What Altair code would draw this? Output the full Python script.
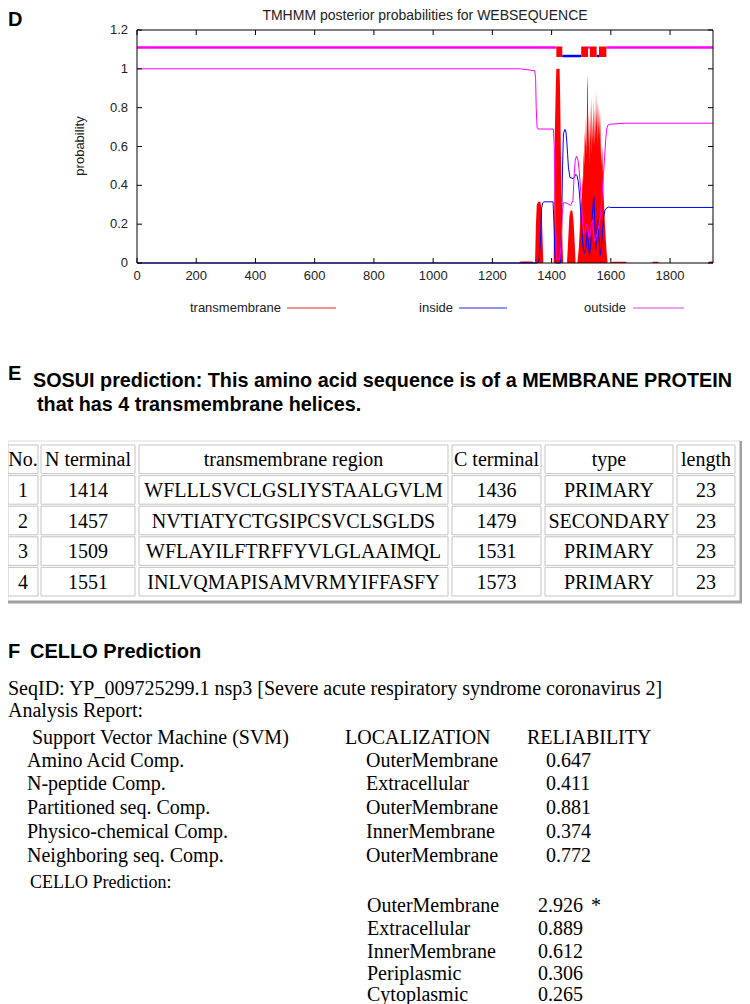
import altair as alt
import pandas as pd

# ============================ DATA ============================
SEQ_LEN = 1945

# TMHMM posterior probabilities
tm_pos = [0, 1290, 1295, 1335, 1340,
          1344, 1347, 1350, 1355, 1362, 1366, 1369, 1372,
          1407, 1409, 1411, 1414, 1416, 1427, 1429, 1431, 1434, 1437, 1439,
          1452, 1456, 1460, 1464, 1470, 1474, 1478, 1481,
          1487, 1492, 1496, 1499, 1502, 1504, 1506, 1508, 1510, 1512, 1514, 1516, 1518, 1520,
          1522, 1524, 1526, 1528, 1530, 1532, 1534, 1536, 1538, 1540, 1542, 1544, 1546, 1548,
          1550, 1552, 1554, 1556, 1558, 1560, 1562, 1564, 1566, 1568, 1571, 1574, 1577, 1580,
          1583, 1586, 1589,
          1600, 1605, 1650, 1655, 1740, 1742, 1760, 1762, 1930, 1933, 1945]
tm_prob = [0, 0, 0.008, 0.008, 0,
           0, 0.2, 0.3, 0.315, 0.315, 0.28, 0.15, 0,
           0, 0.3, 0.68, 0.9, 1.0, 1.0, 0.85, 0.6, 0.3, 0.08, 0,
           0, 0.12, 0.24, 0.27, 0.27, 0.22, 0.1, 0,
           0, 0.08, 0.2, 0.33, 0.3, 0.45, 0.4, 0.58, 0.5, 0.68, 0.6, 0.75, 0.55, 0.9,
           0.97, 0.6, 0.78, 0.5, 0.82, 0.62, 0.86, 0.55, 0.75, 0.62, 0.85, 0.6, 0.8, 0.64,
           0.89, 0.7, 0.84, 0.6, 0.82, 0.65, 0.8, 0.55, 0.78, 0.5, 0.6, 0.42, 0.3, 0.2,
           0.12, 0.05, 0,
           0, 0.006, 0.006, 0, 0, 0.006, 0.006, 0, 0, 0.008, 0.008]

in_pos = [0, 1352, 1358, 1362, 1366, 1370, 1374,
          1405, 1408, 1411, 1414,
          1430, 1434, 1437, 1440, 1445, 1448, 1451, 1454, 1457, 1462,
          1473, 1478, 1482, 1486, 1490, 1494, 1498, 1502, 1506, 1511,
          1516, 1520, 1524, 1528, 1532, 1536, 1540, 1543, 1546, 1549,
          1552, 1556, 1560, 1564, 1568, 1572, 1576, 1580, 1585, 1592,
          1600, 1945]
in_prob = [0, 0, 0.02, 0.1, 0.28, 0.31, 0.315,
           0.315, 0.2, 0.05, 0,
           0, 0.2, 0.5, 0.667, 0.688, 0.68, 0.633, 0.56, 0.49, 0.44,
           0.435, 0.445, 0.457, 0.45, 0.42, 0.36, 0.27, 0.17, 0.08, 0.05,
           0.08, 0.16, 0.1, 0.04, 0.1, 0.22, 0.3, 0.34, 0.2, 0.07,
           0.15, 0.22, 0.12, 0.04, 0.08, 0.17, 0.24, 0.27, 0.282, 0.288,
           0.286, 0.286]

out_pos = [0, 1295, 1320, 1343, 1346, 1348, 1351, 1354,
           1406, 1409, 1412, 1416, 1428, 1432, 1436, 1440, 1448, 1455,
           1464, 1472, 1476, 1480, 1484, 1489, 1493, 1497, 1501, 1505,
           1509, 1514, 1518, 1522, 1526, 1530, 1534, 1538, 1542, 1546,
           1550, 1555, 1560, 1564, 1568, 1571, 1575, 1579, 1583, 1586,
           1590, 1600, 1650, 1945]
out_prob = [1.0, 1.0, 0.995, 0.99, 0.95, 0.8, 0.7, 0.69,
            0.69, 0.6, 0.3, 0.02, 0.02, 0.1, 0.25, 0.31, 0.31, 0.305,
            0.297, 0.32, 0.45, 0.53, 0.55, 0.53, 0.48, 0.4, 0.3, 0.2,
            0.15, 0.17, 0.2, 0.18, 0.13, 0.14, 0.2, 0.22, 0.15, 0.11,
            0.13, 0.16, 0.2, 0.23, 0.3, 0.36, 0.45, 0.55, 0.64, 0.69,
            0.71, 0.715, 0.72, 0.72]

# predicted topology (top bar)
topo_start = [0, 1416, 1436, 1500, 1523, 1529, 1552, 1560, 1585]
topo_end = [1416, 1436, 1500, 1523, 1529, 1552, 1560, 1585, 1945]
topo_state = ["outside", "TM", "inside", "TM", "outside", "TM", "inside", "TM", "outside"]

x_ticks = [0, 200, 400, 600, 800, 1000, 1200, 1400, 1600, 1800]
y_ticks = [0, 0.2, 0.4, 0.6, 0.8, 1.0, 1.2]
y_tick_labels = ["0", "0.2", "0.4", "0.6", "0.8", "1", "1.2"]
legend_names = ["transmembrane", "inside", "outside"]

tmhmm_title = "TMHMM posterior probabilities for WEBSEQUENCE"

# SOSUI
sosui_line1 = "SOSUI prediction: This amino acid sequence is of a MEMBRANE PROTEIN"
sosui_line2 = "that has 4 transmembrane helices."
sosui_headers = ["No.", "N terminal", "transmembrane region", "C terminal", "type", "length"]
sosui_no = ["1", "2", "3", "4"]
sosui_n = ["1414", "1457", "1509", "1551"]
sosui_region = ["WFLLLSVCLGSLIYSTAALGVLM", "NVTIATYCTGSIPCSVCLSGLDS",
                "WFLAYILFTRFFYVLGLAAIMQL", "INLVQMAPISAMVRMYIFFASFY"]
sosui_c = ["1436", "1479", "1531", "1573"]
sosui_type = ["PRIMARY", "SECONDARY", "PRIMARY", "PRIMARY"]
sosui_len = ["23", "23", "23", "23"]

# CELLO
cello_seqid = "SeqID: YP_009725299.1 nsp3 [Severe acute respiratory syndrome coronavirus 2]"
cello_report = "Analysis Report:"
cello_head = ["Support Vector Machine (SVM)", "LOCALIZATION", "RELIABILITY"]
cello_methods = ["Amino Acid Comp.", "N-peptide Comp.", "Partitioned seq. Comp.",
                 "Physico-chemical Comp.", "Neighboring seq. Comp."]
cello_loc = ["OuterMembrane", "Extracellular", "OuterMembrane", "InnerMembrane", "OuterMembrane"]
cello_rel = ["0.647", "0.411", "0.881", "0.374", "0.772"]
cello_pred_label = "CELLO Prediction:"
pred_loc = ["OuterMembrane", "Extracellular", "InnerMembrane", "Periplasmic", "Cytoplasmic"]
pred_score = ["2.926", "0.889", "0.612", "0.306", "0.265"]
pred_mark = ["*", "", "", "", ""]

# ============================ LAYOUT / STYLE ============================
W, H = 734, 996
SANS = "Liberation Sans"
SERIF = "Liberation Serif"
RED, BLUE, MAG = "#ff0000", "#0000ff", "#ff00ff"
LEG_COLORS = ["#e02828", "#2828d0", "#e040e0"]

PX0, PX1, PY0, PY1 = 129, 705, 255, 22
XS = alt.Scale(domain=[0, SEQ_LEN], range=[PX0, PX1], nice=False, zero=False)
YS = alt.Scale(domain=[0, 1.2], range=[PY0, PY1], nice=False, zero=False)


def xq(f):
    return alt.X(f, type="quantitative", scale=XS, axis=None)


def yq(f):
    return alt.Y(f, type="quantitative", scale=YS, axis=None)


def px(f):
    return alt.X(f, type="quantitative", scale=None, axis=None)


def py(f):
    return alt.Y(f, type="quantitative", scale=None, axis=None)


def text_layer(rows, **kw):
    df = pd.DataFrame(rows, columns=["t", "x", "y"])
    base = dict(font=SERIF, fontSize=20, color="black", baseline="middle", align="left")
    base.update(kw)
    return alt.Chart(df).mark_text(**base).encode(x=px("x"), y=py("y"), text="t:N")


layers = []

# ---------------- Panel D ----------------
tm_df = pd.DataFrame({"pos": tm_pos, "prob": tm_prob})
in_df = pd.DataFrame({"pos": in_pos, "prob": in_prob})
out_df = pd.DataFrame({"pos": out_pos, "prob": out_prob})

layers.append(alt.Chart(tm_df).mark_area(color=RED, opacity=1).encode(x=xq("pos"), y=yq("prob")))
layers.append(alt.Chart(in_df).mark_line(color=BLUE, strokeWidth=1).encode(x=xq("pos"), y=yq("prob")))
layers.append(alt.Chart(out_df).mark_line(color=MAG, strokeWidth=1).encode(x=xq("pos"), y=yq("prob")))

topo = pd.DataFrame({"start": topo_start, "end": topo_end, "state": topo_state})
LEVEL = {"outside": 1.11, "inside": 1.066}
out_seg = topo[topo.state == "outside"].assign(lvl=LEVEL["outside"])
in_seg = topo[topo.state == "inside"].assign(lvl=LEVEL["inside"])
tm_seg = topo[topo.state == "TM"].assign(y0=1.061, y1=1.115)
layers.append(alt.Chart(in_seg).mark_rule(color=BLUE, strokeWidth=2.5).encode(
    x=xq("start"), x2="end", y=yq("lvl")))
layers.append(alt.Chart(out_seg).mark_rule(color=MAG, strokeWidth=2.5).encode(
    x=xq("start"), x2="end", y=yq("lvl")))
layers.append(alt.Chart(tm_seg).mark_rect(color=RED).encode(
    x=xq("start"), x2="end", y=yq("y0"), y2="y1"))

# frame
frame_df = pd.DataFrame({"x0": [0], "x1": [SEQ_LEN], "y0": [y_ticks[0]], "y1": [y_ticks[-1]]})
layers.append(alt.Chart(frame_df).mark_rect(fill="transparent", stroke="black", strokeWidth=1).encode(
    x=xq("x0"), x2="x1", y=yq("y0"), y2="y1"))

xt = pd.DataFrame({"v": x_ticks, "lab": [str(v) for v in x_ticks]})
yt = pd.DataFrame({"v": y_ticks, "lab": y_tick_labels})
layers.append(alt.Chart(xt).mark_rule(color="black").encode(x=xq("v"), y=alt.value(PY0), y2=alt.value(PY0 - 5)))
layers.append(alt.Chart(xt).mark_rule(color="black").encode(x=xq("v"), y=alt.value(PY1), y2=alt.value(PY1 + 5)))
layers.append(alt.Chart(yt).mark_rule(color="black").encode(y=yq("v"), x=alt.value(PX0), x2=alt.value(PX0 + 5)))
layers.append(alt.Chart(yt).mark_rule(color="black").encode(y=yq("v"), x=alt.value(PX1), x2=alt.value(PX1 - 5)))
layers.append(alt.Chart(xt).mark_text(font=SANS, fontSize=13, color="#222", baseline="middle").encode(
    x=xq("v"), y=alt.value(268), text="lab:N"))
layers.append(alt.Chart(yt).mark_text(font=SANS, fontSize=13, color="#222", baseline="middle", align="right").encode(
    x=alt.value(120), y=yq("v"), text="lab:N"))

layers.append(text_layer([[tmhmm_title, 417, 1]], font=SANS, fontSize=14, color="#222", align="center", baseline="top"))
layers.append(text_layer([["probability", 72, 138]], font=SANS, fontSize=13, color="#222", align="center", angle=270))
layers.append(text_layer([["D", 0, 2]], font=SANS, fontSize=20, fontWeight="bold", baseline="top"))
layers.append(text_layer([["E", 0, 366], ["F", 0, 644]], font=SANS, fontSize=20, fontWeight="bold"))

# legend
LEG_TX = [281, 453, 626]
LEG_L0 = [287, 459, 633]
LEG_L1 = [336, 507, 684]
LEG_Y = 300
leg = pd.DataFrame({"name": legend_names, "tx": [v - 8 for v in LEG_TX],
                    "l0": [v - 8 for v in LEG_L0], "l1": [v - 8 for v in LEG_L1]})
leg_color = alt.Color("name:N", scale=alt.Scale(domain=legend_names, range=LEG_COLORS), legend=None)
layers.append(alt.Chart(leg).mark_text(font=SANS, fontSize=13, color="#222", align="right", baseline="middle").encode(
    x=px("tx"), y=alt.value(LEG_Y), text="name:N"))
layers.append(alt.Chart(leg).mark_rule(strokeWidth=1.2).encode(
    x=px("l0"), x2="l1", y=alt.value(LEG_Y), color=leg_color))

# ---------------- Panel E ----------------
layers.append(text_layer([[sosui_line1, 25, 373], [sosui_line2, 29, 397]], font=SANS, fontSize=19.8, fontWeight="bold"))

COLS = [(0, 30), (33, 127), (131, 440), (444, 533), (537, 665), (669, 727)]
ROW_TOP0, ROW_PITCH, ROW_H = 437, 30.6, 28.6
TBL = (0, 433, 733, 594)

cells, cell_txt = [], []
table_cols = [sosui_no, sosui_n, sosui_region, sosui_c, sosui_type, sosui_len]
for r in range(5):
    top = ROW_TOP0 + r * ROW_PITCH
    for c, (a, b) in enumerate(COLS):
        cells.append({"x0": a, "x1": b, "y0": top, "y1": top + ROW_H})
        txt = sosui_headers[c] if r == 0 else table_cols[c][r - 1]
        cell_txt.append([txt, (a + b) / 2, top + ROW_H / 2 + 1])
cells_df = pd.DataFrame(cells)
layers.append(alt.Chart(pd.DataFrame([{"x0": TBL[0], "x1": TBL[2], "y0": TBL[1], "y1": TBL[3]}]))
              .mark_rect(fill="white", stroke="#dcdcdc", strokeWidth=1)
              .encode(x=px("x0"), x2="x1", y=py("y0"), y2="y1"))
layers.append(alt.Chart(pd.DataFrame([{"x0": TBL[0], "x1": TBL[2] + 1, "y": TBL[3]}]))
              .mark_rule(color="#a0a0a0", strokeWidth=3).encode(x=px("x0"), x2="x1", y=py("y")))
layers.append(alt.Chart(pd.DataFrame([{"x": TBL[2], "y0": TBL[1], "y1": TBL[3] + 1}]))
              .mark_rule(color="#a0a0a0", strokeWidth=3).encode(x=px("x"), y=py("y0"), y2="y1"))
layers.append(alt.Chart(cells_df).mark_rect(fill="white", stroke="#c4c4c4", strokeWidth=1).encode(
    x=px("x0"), x2="x1", y=py("y0"), y2="y1"))
layers.append(text_layer(cell_txt, align="center"))

# ---------------- Panel F ----------------
layers.append(text_layer([["CELLO Prediction", 22, 644]], font=SANS, fontSize=20, fontWeight="bold"))
f_rows = [[cello_seqid, 0, 681], [cello_report, 0, 703],
          [cello_head[0], 24, 730], [cello_head[1], 337, 730], [cello_head[2], 519, 730]]
ROW_Y = [753, 776, 800, 824, 848]
for i in range(5):
    f_rows += [[cello_methods[i], 19, ROW_Y[i]], [cello_loc[i], 358, ROW_Y[i]], [cello_rel[i], 538, ROW_Y[i]]]
PRED_Y = [898, 921, 944, 966, 987]
for i in range(5):
    f_rows += [[pred_loc[i], 359, PRED_Y[i]], [pred_score[i], 530, PRED_Y[i]], [pred_mark[i], 583, PRED_Y[i]]]
layers.append(text_layer(f_rows))
layers.append(text_layer([[cello_pred_label, 22, 875]], fontSize=18))

chart = (
    alt.layer(*layers)
    .resolve_scale(x="independent", y="independent", color="independent")
    .properties(width=W, height=H, autosize=alt.AutoSizeParams(type="none"), padding=0)
    .configure_view(strokeWidth=0)
)

chart.save("out.html", embed_options={"renderer": "svg", "actions": False})
